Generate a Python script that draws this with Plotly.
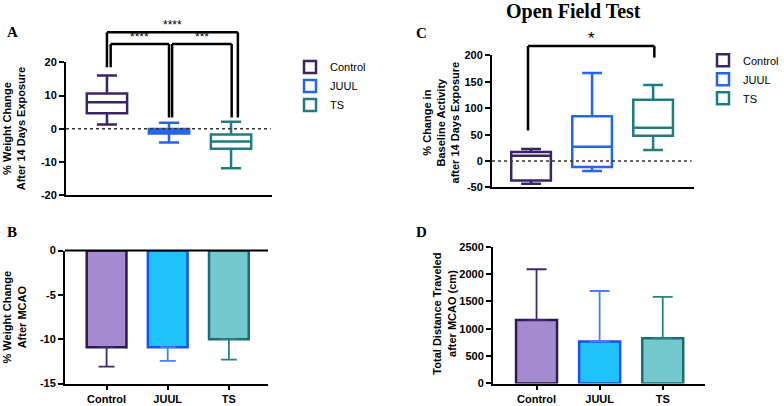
import plotly.graph_objects as go

W, H = 784, 406

groups = ["Control", "JUUL", "TS"]
line_colors = ["#3a2466", "#2563f0", "#1f7d80"]
bar_line_colors = ["#2d1a4f", "#1d4ff0", "#1a6f76"]
bar_fill_colors = ["#a48bd0", "#1ec3fc", "#72c8cd"]
err_colors = ["#3d2a6b", "#4a7cf0", "#2a8088"]

# Panel A: % weight change after 14 days exposure (box summaries)
a_low = [1.3, -4.1, -11.9]
a_q1 = [4.7, -1.4, -6.0]
a_med = [8.0, -0.8, -3.8]
a_q3 = [10.6, -0.1, -1.75]
a_high = [16.0, 1.8, 2.1]

# Panel C: % change in baseline activity (box summaries)
c_low = [-43, -19, 21]
c_q1 = [-37, -11, 48]
c_med = [10, 27, 63]
c_q3 = [17, 85, 116]
c_high = [23, 167, 144]

# Panel B: % weight change after MCAO (mean, lower SD)
b_mean = [-10.9, -10.9, -10.0]
b_err = [2.2, 1.55, 2.3]

# Panel D: total distance traveled after MCAO (mean, upper SD)
d_mean = [1158, 768, 828]
d_err = [929, 922, 755]

# y tick values per panel
a_ticks = [-20, -10, 0, 10, 20]
b_ticks = [-15, -10, -5, 0]
c_ticks = [-50, 0, 50, 100, 150, 200]
d_ticks = [0, 500, 1000, 1500, 2000, 2500]

# significance comparisons: (i, j, label)
a_sig = [(0, 2, "****"), (0, 1, "****"), (1, 2, "***")]
c_sig = [(0, 2, "*")]

FONT = "Liberation Sans, Arial, sans-serif"
SERIF = "Liberation Serif, Times New Roman, serif"

def px(x):
    return x / W

def py(y):
    return 1 - y / H

# axis layout (pixel boxes)
dom = {
    "A": ([66, 272], [58, 195]),
    "B": ([65, 268], [252, 389]),
    "C": ([492, 694], [51, 187]),
    "D": ([493, 705], [248, 389]),
}
xr = {"A": [-0.66, 2.66], "B": [-0.68, 2.64], "C": [-0.64, 2.67], "D": [-0.69, 2.67]}
yr = {"A": [-20, 20], "B": [-15, 0], "C": [-50, 200], "D": [0, 2500]}
yt = {"A": a_ticks, "B": b_ticks, "C": c_ticks, "D": d_ticks}
axn = {"A": ("x", "y"), "B": ("x2", "y2"), "C": ("x3", "y3"), "D": ("x4", "y4")}

fig = go.Figure()

x_idx = [0, 1, 2]

for i, g in enumerate(groups):
    fig.add_trace(go.Box(
        x=[x_idx[i]], q1=[a_q1[i]], median=[a_med[i]], q3=[a_q3[i]],
        lowerfence=[a_low[i]], upperfence=[a_high[i]], name=g,
        boxpoints=False, width=0.65, whiskerwidth=0.5,
        line=dict(color=line_colors[i], width=2.5), fillcolor="white",
        xaxis="x", yaxis="y", legend="legend", hoverinfo="skip"))
for i, g in enumerate(groups):
    fig.add_trace(go.Box(
        x=[x_idx[i]], q1=[c_q1[i]], median=[c_med[i]], q3=[c_q3[i]],
        lowerfence=[c_low[i]], upperfence=[c_high[i]], name=g,
        boxpoints=False, width=0.65, whiskerwidth=0.5,
        line=dict(color=line_colors[i], width=2.5), fillcolor="white",
        xaxis="x3", yaxis="y3", legend="legend2", hoverinfo="skip"))
for i, g in enumerate(groups):
    fig.add_trace(go.Bar(
        x=[x_idx[i]], y=[b_mean[i]], width=0.65, showlegend=False,
        marker=dict(color=bar_fill_colors[i], line=dict(color=bar_line_colors[i], width=2.5)),
        error_y=dict(type="data", symmetric=False, array=[0], arrayminus=[b_err[i]],
                     color=err_colors[i], thickness=1.8, width=8),
        xaxis="x2", yaxis="y2", hoverinfo="skip"))
    fig.add_trace(go.Bar(
        x=[x_idx[i]], y=[d_mean[i]], width=0.65, showlegend=False,
        marker=dict(color=bar_fill_colors[i], line=dict(color=bar_line_colors[i], width=2.5)),
        error_y=dict(type="data", symmetric=False, array=[d_err[i]], arrayminus=[0],
                     color=err_colors[i], thickness=1.8, width=10),
        xaxis="x4", yaxis="y4", hoverinfo="skip"))

tickfont = dict(family=FONT, size=11, color="black", weight="bold")
layout_axes = {}
for p, (xa, ya) in axn.items():
    (x0, x1), (y0, y1) = dom[p]
    xk = "xaxis" + xa[1:]
    yk = "yaxis" + ya[1:]
    show_lbl = p in ("B", "D")
    layout_axes[xk] = dict(
        domain=[px(x0), px(x1)], range=xr[p], anchor=ya, showgrid=False, zeroline=False,
        showline=True, linewidth=2, linecolor="black",
        tickmode="array", tickvals=x_idx, ticktext=groups,
        showticklabels=show_lbl, ticks="outside" if show_lbl else "",
        ticklen=4, tickwidth=2, tickcolor="black", tickfont=tickfont, fixedrange=True)
    layout_axes[yk] = dict(
        domain=[py(y1), py(y0)], range=yr[p], anchor=xa, showgrid=False, zeroline=False,
        showline=True, linewidth=2, linecolor="black",
        tickmode="array", tickvals=yt[p], ticktext=[str(v) for v in yt[p]],
        ticks="outside", ticklen=5, tickwidth=2, tickcolor="black", tickfont=tickfont,
        fixedrange=True)

fig.update_layout(**layout_axes)

shapes = []
annotations = []

def xd(p, v):
    r = xr[p]
    return (v - r[0]) / (r[1] - r[0])

def yd(p, v):
    r = yr[p]
    return (v - r[0]) / (r[1] - r[0])

def seg(p, xa0, ya0, xa1, ya1, color="black", width=2.5, dash=None):
    xa, ya = axn[p]
    ln = dict(color=color, width=width)
    if dash:
        ln["dash"] = dash
    shapes.append(dict(type="line", xref=xa + " domain", yref=ya + " domain",
                       x0=xd(p, xa0), y0=yd(p, ya0), x1=xd(p, xa1), y1=yd(p, ya1), line=ln))

def bracket(p, xl, xrr, ytop, yl, yrr, label, size, dy):
    seg(p, xl, yl, xl, ytop)
    seg(p, xl, ytop, xrr, ytop)
    seg(p, xrr, ytop, xrr, yrr)
    xa, ya = axn[p]
    annotations.append(dict(text=label, xref=xa + " domain", yref=ya + " domain",
                            x=xd(p, (xl + xrr) / 2), y=yd(p, ytop), yshift=dy,
                            showarrow=False, yanchor="bottom",
                            font=dict(family=FONT, size=size, color="black")))

# Panel A brackets
bracket("A", 0.0, 2.11, 29.0, 18.5, 3.4, a_sig[0][2], 12, -2)
bracket("A", 0.06, 1.0, 25.5, 18.5, 3.4, a_sig[1][2], 12, -2)
bracket("A", 1.05, 2.01, 25.5, 3.4, 3.4, a_sig[2][2], 12, -2)
# Panel C bracket
bracket("C", -0.05, 2.02, 218, 58, 196, c_sig[0][2], 17, -4)

# zero reference lines
seg("A", xr["A"][0], 0, xr["A"][1] - 0.02, 0, color="#333333", width=1.5, dash="dot")
seg("C", xr["C"][0], 0, xr["C"][1] - 0.04, 0, color="#333333", width=1.5, dash="dot")
seg("B", xr["B"][0], 0, xr["B"][1], 0, width=2)

def text(s, x, y, size, family=FONT, bold=True, angle=0, xanchor="center", yanchor="middle"):
    annotations.append(dict(text=s, xref="paper", yref="paper", x=px(x), y=py(y),
                            showarrow=False, textangle=angle, xanchor=xanchor, yanchor=yanchor,
                            font=dict(family=family, size=size, color="black",
                                      weight="bold" if bold else "normal")))

text("Open Field Test", 573, 6, 20, family=SERIF)
text("A", 12, 27, 15, family=SERIF)
text("B", 12, 233, 15, family=SERIF)
text("C", 422, 28, 15, family=SERIF)
text("D", 422, 233, 15, family=SERIF)
text("% Weight Change<br>After 14 Days Exposure", 14, 126, 11, angle=-90)
text("% Weight Change<br>After MCAO", 14, 321, 11, angle=-90)
text("% Change in<br>Baseline Activity<br>after 14 Days Exposure", 441, 120, 11, angle=-90)
text("Total Distance Traveled<br>after MCAO (cm)", 444, 317, 11, angle=-90)

legfont = dict(family=FONT, size=11, color="black")
fig.update_layout(
    width=W, height=H, margin=dict(l=0, r=0, t=0, b=0),
    paper_bgcolor="white", plot_bgcolor="white",
    boxmode="overlay", barmode="overlay",
    shapes=shapes, annotations=annotations,
    legend=dict(x=px(290), y=py(48), xanchor="left", yanchor="top", font=legfont,
                bgcolor="rgba(0,0,0,0)", tracegroupgap=0),
    legend2=dict(x=1.0, y=py(41), xanchor="right", yanchor="top", font=legfont,
                 bgcolor="rgba(0,0,0,0)", tracegroupgap=0),
    showlegend=True,
)

fig.write_html("out.html", config={"displayModeBar": False},
               post_script="document.body.style.margin='0';document.body.style.overflow='hidden';")
